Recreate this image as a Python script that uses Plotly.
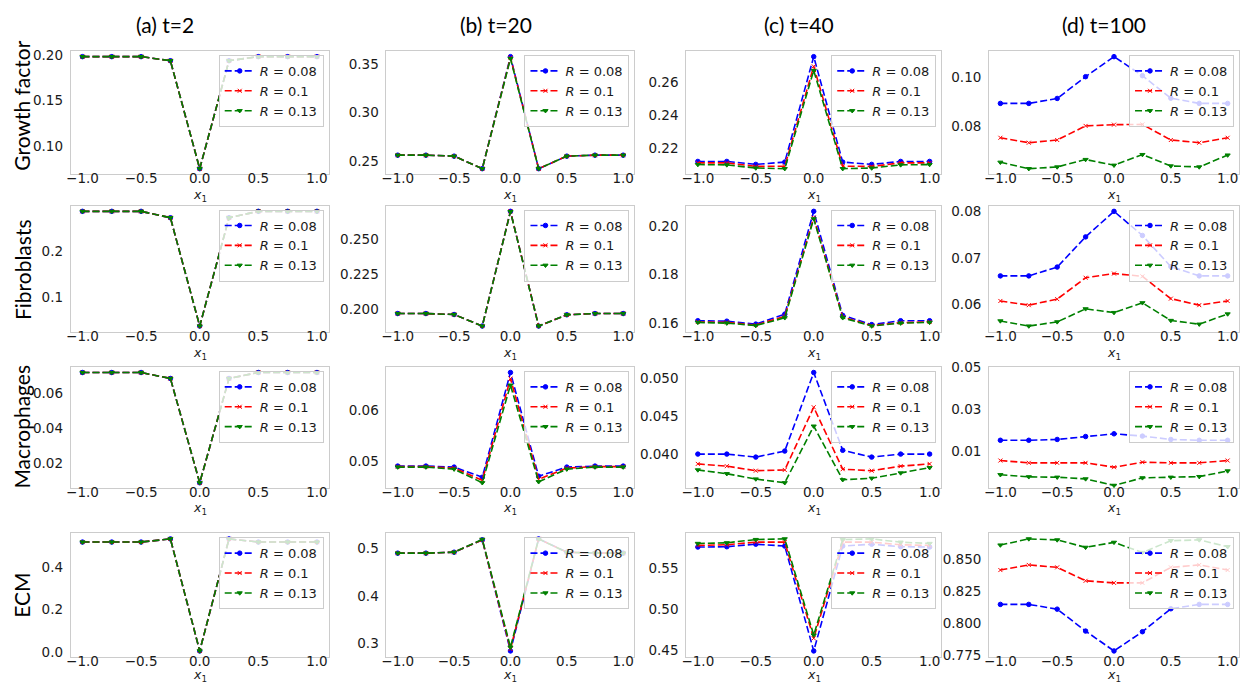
import plotly.graph_objects as go

# ---------------- data ----------------
X1 = [-1.0, -0.75, -0.5, -0.25, 0.0, 0.25, 0.5, 0.75, 1.0]
R_LABELS = ["0.08", "0.1", "0.13"]
COL_TITLES = ["(a) t=2", "(b) t=20", "(c) t=40", "(d) t=100"]
ROW_TITLES = ["Growth factor", "Fibroblasts", "Macrophages", "ECM"]
X_TICKS = [-1.0, -0.5, 0.0, 0.5, 1.0]
X_TICKTEXT = ["\u22121.0", "\u22120.5", "0.0", "0.5", "1.0"]
X_LABEL = "<i>x</i><sub>1</sub>"

# Growth factor
GF_T2_R008 = [0.1985, 0.1985, 0.1985, 0.194, 0.075, 0.194, 0.1985, 0.1985, 0.1985]
GF_T2_R01 = [0.1985, 0.1985, 0.1985, 0.194, 0.075, 0.194, 0.1985, 0.1985, 0.1985]
GF_T2_R013 = [0.1985, 0.1985, 0.1985, 0.194, 0.075, 0.194, 0.1985, 0.1985, 0.1985]
GF_T2_YTICKS = [0.10, 0.15, 0.20]
GF_T2_YTEXT = ["0.10", "0.15", "0.20"]

GF_T20_R008 = [0.256, 0.256, 0.255, 0.242, 0.358, 0.242, 0.255, 0.256, 0.256]
GF_T20_R01 = [0.256, 0.256, 0.255, 0.242, 0.357, 0.242, 0.255, 0.256, 0.256]
GF_T20_R013 = [0.256, 0.256, 0.255, 0.242, 0.356, 0.242, 0.255, 0.256, 0.256]
GF_T20_YTICKS = [0.25, 0.30, 0.35]
GF_T20_YTEXT = ["0.25", "0.30", "0.35"]

GF_T40_R008 = [0.2119, 0.2119, 0.2101, 0.2115, 0.2754, 0.2115, 0.2101, 0.2119, 0.2119]
GF_T40_R01 = [0.2110, 0.2110, 0.2089, 0.2090, 0.2695, 0.2090, 0.2089, 0.2110, 0.2110]
GF_T40_R013 = [0.2100, 0.2098, 0.2079, 0.2075, 0.2670, 0.2075, 0.2079, 0.2098, 0.2100]
GF_T40_YTICKS = [0.22, 0.24, 0.26]
GF_T40_YTEXT = ["0.22", "0.24", "0.26"]

GF_T100_R008 = [0.0893, 0.0893, 0.0913, 0.1001, 0.1082, 0.1005, 0.0914, 0.0893, 0.0893]
GF_T100_R01 = [0.0754, 0.0734, 0.0745, 0.0802, 0.0807, 0.0808, 0.0745, 0.0734, 0.0754]
GF_T100_R013 = [0.0655, 0.0629, 0.0636, 0.0666, 0.0643, 0.0686, 0.0640, 0.0636, 0.0684]
GF_T100_YTICKS = [0.08, 0.10]
GF_T100_YTEXT = ["0.08", "0.10"]

# Fibroblasts
FB_T2_R008 = [0.287, 0.287, 0.287, 0.273, 0.036, 0.273, 0.287, 0.287, 0.287]
FB_T2_R01 = [0.287, 0.287, 0.287, 0.273, 0.036, 0.273, 0.287, 0.287, 0.287]
FB_T2_R013 = [0.287, 0.287, 0.287, 0.273, 0.036, 0.273, 0.287, 0.287, 0.287]
FB_T2_YTICKS = [0.1, 0.2]
FB_T2_YTEXT = ["0.1", "0.2"]

FB_T20_R008 = [0.1967, 0.1967, 0.1960, 0.1877, 0.2703, 0.1877, 0.1958, 0.1967, 0.1967]
FB_T20_R01 = [0.1967, 0.1967, 0.1960, 0.1877, 0.2703, 0.1877, 0.1958, 0.1967, 0.1967]
FB_T20_R013 = [0.1967, 0.1967, 0.1960, 0.1877, 0.2701, 0.1877, 0.1958, 0.1967, 0.1967]
FB_T20_YTICKS = [0.200, 0.225, 0.250]
FB_T20_YTEXT = ["0.200", "0.225", "0.250"]

FB_T40_R008 = [0.1610, 0.1608, 0.1596, 0.1637, 0.2061, 0.1632, 0.1594, 0.1610, 0.1610]
FB_T40_R01 = [0.1605, 0.1603, 0.1592, 0.1628, 0.2035, 0.1625, 0.1590, 0.1602, 0.1605]
FB_T40_R013 = [0.1603, 0.1600, 0.1590, 0.1622, 0.2030, 0.1622, 0.1588, 0.1600, 0.1603]
FB_T40_YTICKS = [0.16, 0.18, 0.20]
FB_T40_YTEXT = ["0.16", "0.18", "0.20"]

FB_T100_R008 = [0.0661, 0.0661, 0.0680, 0.0745, 0.0800, 0.0748, 0.0681, 0.0661, 0.0661]
FB_T100_R01 = [0.0607, 0.0598, 0.0611, 0.0657, 0.0666, 0.0660, 0.0612, 0.0598, 0.0607]
FB_T100_R013 = [0.0564, 0.0553, 0.0562, 0.0590, 0.0582, 0.0603, 0.0565, 0.0557, 0.0579]
FB_T100_YTICKS = [0.06, 0.07, 0.08]
FB_T100_YTEXT = ["0.06", "0.07", "0.08"]

# Macrophages
MP_T2_R008 = [0.0721, 0.0721, 0.0721, 0.0687, 0.0090, 0.0687, 0.0721, 0.0721, 0.0721]
MP_T2_R01 = [0.0721, 0.0721, 0.0721, 0.0687, 0.0090, 0.0687, 0.0721, 0.0721, 0.0721]
MP_T2_R013 = [0.0721, 0.0721, 0.0721, 0.0687, 0.0090, 0.0687, 0.0721, 0.0721, 0.0721]
MP_T2_YTICKS = [0.02, 0.04, 0.06]
MP_T2_YTEXT = ["0.02", "0.04", "0.06"]

MP_T20_R008 = [0.0490, 0.0490, 0.0488, 0.0468, 0.0675, 0.0470, 0.0488, 0.0490, 0.0490]
MP_T20_R01 = [0.0489, 0.0489, 0.0486, 0.0462, 0.0663, 0.0464, 0.0486, 0.0489, 0.0489]
MP_T20_R013 = [0.0488, 0.0488, 0.0484, 0.0457, 0.0650, 0.0459, 0.0484, 0.0488, 0.0488]
MP_T20_YTICKS = [0.05, 0.06]
MP_T20_YTEXT = ["0.05", "0.06"]

MP_T40_R008 = [0.0400, 0.0400, 0.0396, 0.0404, 0.0508, 0.0405, 0.0396, 0.0400, 0.0400]
MP_T40_R01 = [0.0387, 0.0384, 0.0378, 0.0379, 0.0462, 0.0380, 0.0378, 0.0384, 0.0387]
MP_T40_R013 = [0.0379, 0.0374, 0.0367, 0.0362, 0.0437, 0.0366, 0.0368, 0.0375, 0.0382]
MP_T40_YTICKS = [0.040, 0.045, 0.050]
MP_T40_YTEXT = ["0.040", "0.045", "0.050"]

MP_T100_R008 = [0.0152, 0.0152, 0.0156, 0.0170, 0.0183, 0.0172, 0.0156, 0.0152, 0.0152]
MP_T100_R01 = [0.0055, 0.0044, 0.0044, 0.0044, 0.0023, 0.0047, 0.0044, 0.0044, 0.0055]
MP_T100_R013 = [-0.0013, -0.0023, -0.0025, -0.0033, -0.0064, -0.0028, -0.0025, -0.0022, 0.0005]
MP_T100_YTICKS = [0.01, 0.03, 0.05]
MP_T100_YTEXT = ["0.01", "0.03", "0.05"]
MP_T100_YLIM = [-0.0078, 0.0503]

# ECM
ECM_T2_R008 = [0.520, 0.520, 0.520, 0.535, 0.005, 0.535, 0.520, 0.520, 0.520]
ECM_T2_R01 = [0.520, 0.520, 0.520, 0.535, 0.005, 0.535, 0.520, 0.520, 0.520]
ECM_T2_R013 = [0.520, 0.520, 0.520, 0.535, 0.005, 0.535, 0.520, 0.520, 0.520]
ECM_T2_YTICKS = [0.0, 0.2, 0.4]
ECM_T2_YTEXT = ["0.0", "0.2", "0.4"]

ECM_T20_R008 = [0.490, 0.490, 0.492, 0.518, 0.284, 0.520, 0.492, 0.490, 0.490]
ECM_T20_R01 = [0.490, 0.490, 0.492, 0.518, 0.288, 0.520, 0.492, 0.490, 0.490]
ECM_T20_R013 = [0.490, 0.490, 0.492, 0.519, 0.292, 0.520, 0.492, 0.490, 0.490]
ECM_T20_YTICKS = [0.3, 0.4, 0.5]
ECM_T20_YTEXT = ["0.3", "0.4", "0.5"]

ECM_T40_R008 = [0.5761, 0.5765, 0.5796, 0.5773, 0.4488, 0.5773, 0.5796, 0.5765, 0.5761]
ECM_T40_R01 = [0.5781, 0.5789, 0.5821, 0.5821, 0.4643, 0.5821, 0.5821, 0.5789, 0.5781]
ECM_T40_R013 = [0.5805, 0.5813, 0.5853, 0.5861, 0.4683, 0.5853, 0.5861, 0.5821, 0.5805]
ECM_T40_YTICKS = [0.45, 0.50, 0.55]
ECM_T40_YTEXT = ["0.45", "0.50", "0.55"]

ECM_T100_R008 = [0.8150, 0.8150, 0.8113, 0.7942, 0.7787, 0.7937, 0.8116, 0.8150, 0.8150]
ECM_T100_R01 = [0.8418, 0.8458, 0.8439, 0.8334, 0.8318, 0.8318, 0.8439, 0.8458, 0.8418]
ECM_T100_R013 = [0.8613, 0.8661, 0.8653, 0.8595, 0.8634, 0.8555, 0.8647, 0.8653, 0.8600]
ECM_T100_YTICKS = [0.775, 0.800, 0.825, 0.850]
ECM_T100_YTEXT = ["0.775", "0.800", "0.825", "0.850"]

PANELS = [
    [((GF_T2_R008, GF_T2_R01, GF_T2_R013), GF_T2_YTICKS, GF_T2_YTEXT, None),
     ((GF_T20_R008, GF_T20_R01, GF_T20_R013), GF_T20_YTICKS, GF_T20_YTEXT, None),
     ((GF_T40_R008, GF_T40_R01, GF_T40_R013), GF_T40_YTICKS, GF_T40_YTEXT, None),
     ((GF_T100_R008, GF_T100_R01, GF_T100_R013), GF_T100_YTICKS, GF_T100_YTEXT, None)],
    [((FB_T2_R008, FB_T2_R01, FB_T2_R013), FB_T2_YTICKS, FB_T2_YTEXT, None),
     ((FB_T20_R008, FB_T20_R01, FB_T20_R013), FB_T20_YTICKS, FB_T20_YTEXT, None),
     ((FB_T40_R008, FB_T40_R01, FB_T40_R013), FB_T40_YTICKS, FB_T40_YTEXT, None),
     ((FB_T100_R008, FB_T100_R01, FB_T100_R013), FB_T100_YTICKS, FB_T100_YTEXT, None)],
    [((MP_T2_R008, MP_T2_R01, MP_T2_R013), MP_T2_YTICKS, MP_T2_YTEXT, None),
     ((MP_T20_R008, MP_T20_R01, MP_T20_R013), MP_T20_YTICKS, MP_T20_YTEXT, None),
     ((MP_T40_R008, MP_T40_R01, MP_T40_R013), MP_T40_YTICKS, MP_T40_YTEXT, None),
     ((MP_T100_R008, MP_T100_R01, MP_T100_R013), MP_T100_YTICKS, MP_T100_YTEXT, MP_T100_YLIM)],
    [((ECM_T2_R008, ECM_T2_R01, ECM_T2_R013), ECM_T2_YTICKS, ECM_T2_YTEXT, None),
     ((ECM_T20_R008, ECM_T20_R01, ECM_T20_R013), ECM_T20_YTICKS, ECM_T20_YTEXT, None),
     ((ECM_T40_R008, ECM_T40_R01, ECM_T40_R013), ECM_T40_YTICKS, ECM_T40_YTEXT, None),
     ((ECM_T100_R008, ECM_T100_R01, ECM_T100_R013), ECM_T100_YTICKS, ECM_T100_YTEXT, None)],
]

# ---------------- layout ----------------
W, H = 1241, 688
COL_PX = [(66, 325), (383, 632), (684, 940), (988, 1239)]
ROW_PX = [(44, 170), (202, 331), (367, 491), (537, 663)]
XLABEL_OFFSET = [22, 22, 21, 19]
COL_TITLE_X = [161, 493, 797, 1103]
ROW_TITLE_Y = [100, 267, 428, 600]

STYLES = [
    dict(color="#0000ff", symbol="circle", size=4.5),
    dict(color="#ff0000", symbol="x-thin", size=4),
    dict(color="#008000", symbol="triangle-down", size=4.5),
]
TEXT_COLOR = "#1a1a1a"
TICK_FONT = dict(family="DejaVu Sans", size=13.5, color=TEXT_COLOR)
FRAME = "#cccccc"

fig = go.Figure()
layout = {}
annotations = []
for r in range(4):
    for c in range(4):
        k = r * 4 + c + 1
        sfx = "" if k == 1 else str(k)
        series, yt, ytt, ylim = PANELS[r][c]
        for s, (vals, lab) in enumerate(zip(series, R_LABELS)):
            st = STYLES[s]
            fig.add_trace(go.Scatter(
                x=X1, y=vals, mode="lines+markers",
                name=f"<i>R</i> = {lab}",
                line=dict(color=st["color"], width=1.6, dash="7px,3px"),
                marker=dict(symbol=st["symbol"], size=st["size"], color=st["color"],
                            line=dict(color=st["color"], width=1)),
                xaxis="x" + sfx, yaxis="y" + sfx, legend="legend" + sfx,
                showlegend=True,
            ))
        allv = [v for ser in series for v in ser]
        lo, hi = min(allv), max(allv)
        pad = 0.05 * (hi - lo)
        yr = ylim if ylim is not None else [lo - pad, hi + pad]
        x0, x1 = COL_PX[c]
        y0, y1 = ROW_PX[r]
        layout["xaxis" + sfx] = dict(
            domain=[x0 / W, x1 / W], anchor="y" + sfx, range=[-1.1, 1.1],
            tickvals=X_TICKS, ticktext=X_TICKTEXT, ticks="", ticklen=0, showgrid=False,
            zeroline=False, showline=True, mirror=True, linecolor=FRAME, linewidth=1,
            tickfont=TICK_FONT, ticklabelstandoff=-8,
        )
        layout["yaxis" + sfx] = dict(
            domain=[1 - y1 / H, 1 - y0 / H], anchor="x" + sfx, range=yr,
            tickvals=yt, ticktext=ytt, ticks="", ticklen=0, showgrid=False, zeroline=False,
            showline=True, mirror=True, linecolor=FRAME, linewidth=1,
            tickfont=TICK_FONT, ticklabelstandoff=4,
        )
        layout["legend" + sfx] = dict(
            x=(x1 - 5) / W, y=1 - (y0 + 4) / H, xanchor="right", yanchor="top",
            bgcolor="rgba(255,255,255,0.8)", bordercolor=FRAME, borderwidth=1,
            font=dict(family="DejaVu Sans", size=13, color=TEXT_COLOR),
            tracegroupgap=0, itemwidth=30,
        )
        annotations.append(dict(
            text=X_LABEL, x=(x0 + x1) / 2 / W, y=1 - (y1 + XLABEL_OFFSET[r]) / H,
            xref="paper", yref="paper", showarrow=False, xanchor="center", yanchor="middle",
            font=dict(family="DejaVu Sans", size=12.5, color=TEXT_COLOR)))

for c, t in enumerate(COL_TITLES):
    annotations.append(dict(text=t, x=COL_TITLE_X[c] / W, y=1 - 17 / H, xref="paper", yref="paper",
                            showarrow=False, xanchor="center", yanchor="middle",
                            font=dict(family="Lato", size=21, color="#000000")))
for r, t in enumerate(ROW_TITLES):
    annotations.append(dict(text=t, x=17 / W, y=1 - ROW_TITLE_Y[r] / H, xref="paper", yref="paper",
                            showarrow=False, xanchor="center", yanchor="middle", textangle=-90,
                            font=dict(family="Lato", size=21, color="#000000")))

fig.update_layout(
    width=W, height=H, autosize=False,
    margin=dict(l=0, r=0, t=0, b=0),
    paper_bgcolor="white", plot_bgcolor="white",
    annotations=annotations,
    **layout,
)

fig.write_html(
    "out.html",
    config={"displayModeBar": False},
    post_script="document.body.style.margin='0';document.body.style.overflow='hidden';",
)
